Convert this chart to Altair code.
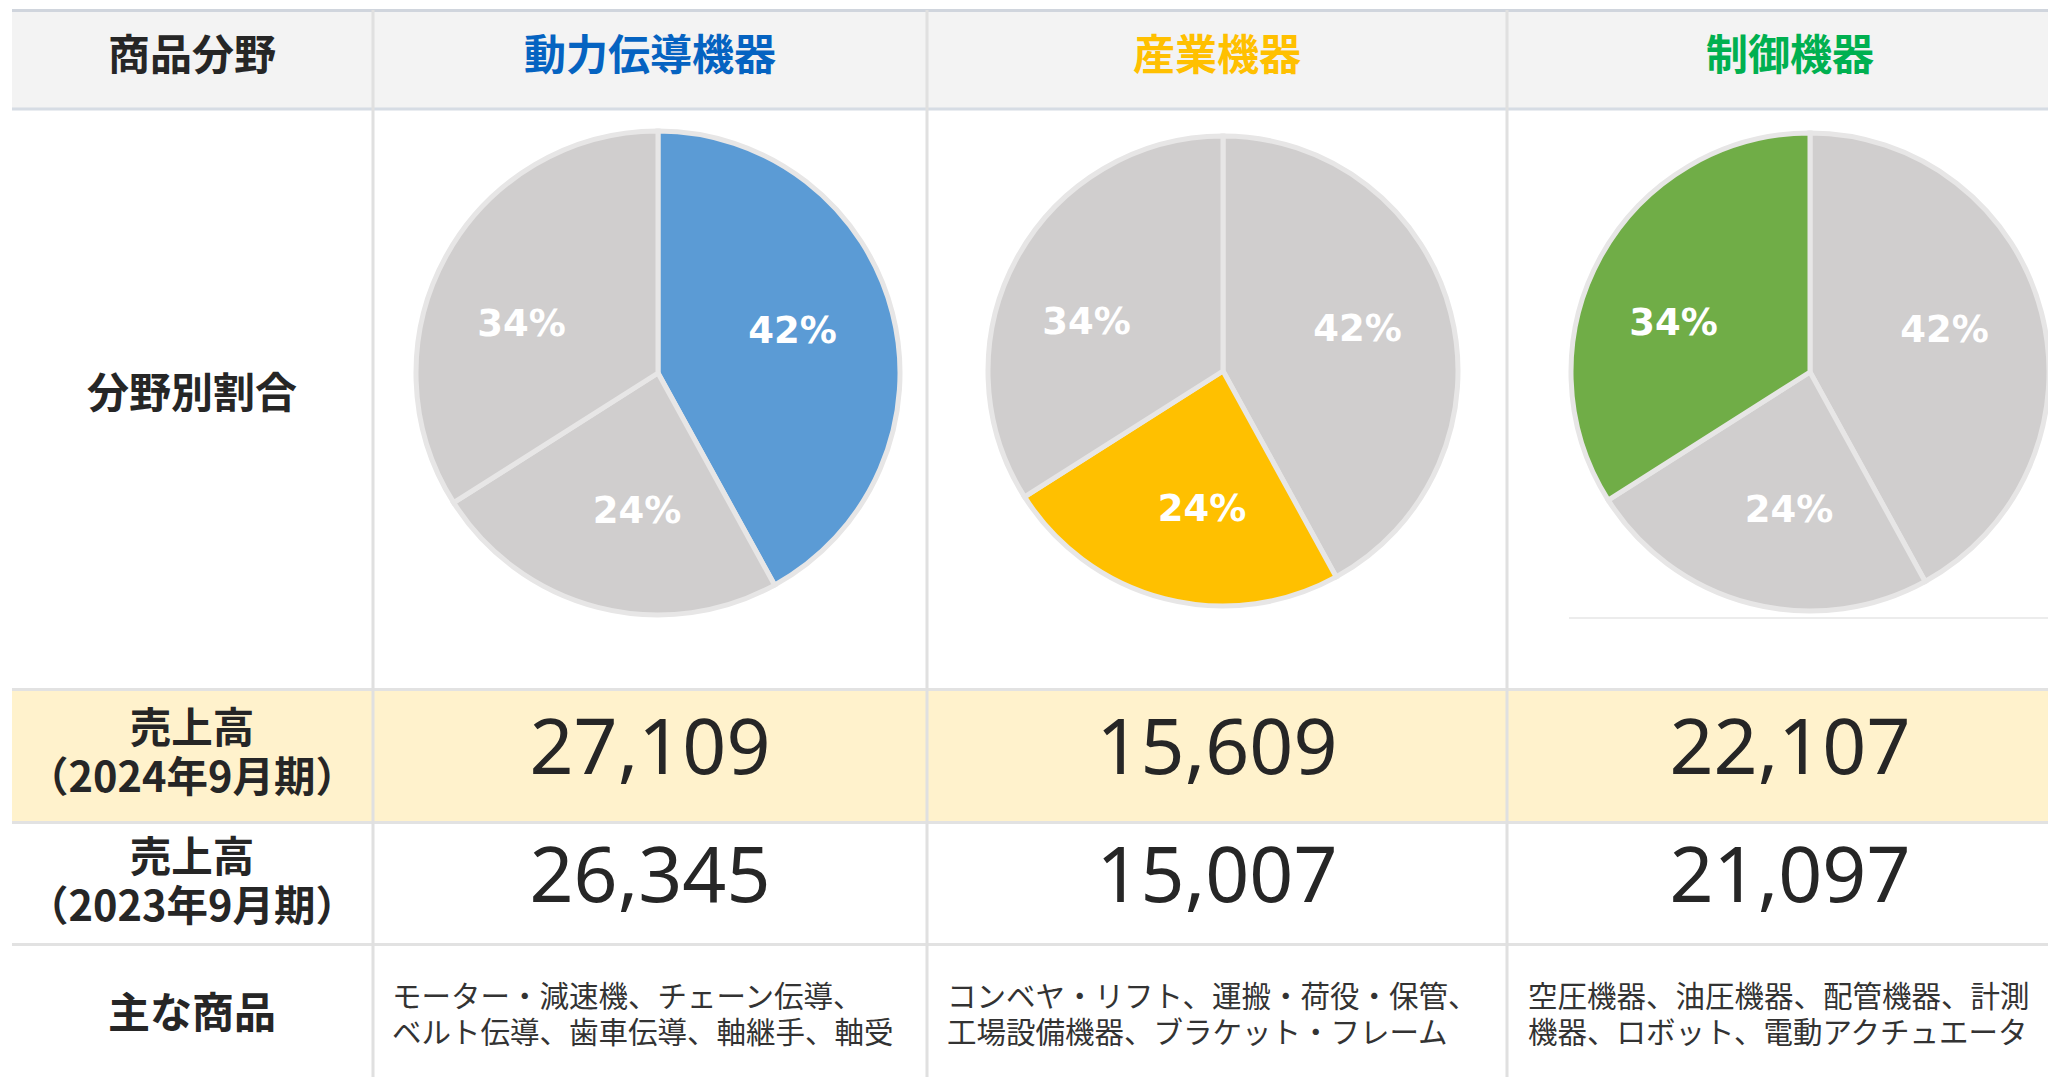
import altair as alt
import pandas as pd

# ---------------- data ----------------
header_label = "商品分野"
categories = ["動力伝導機器", "産業機器", "制御機器"]
shares = [42, 24, 34]
sales_2024 = [27109, 15609, 22107]
sales_2023 = [26345, 15007, 21097]
row_label_share = "分野別割合"
row_label_2024 = ["売上高", "（2024年9月期）"]
row_label_2023 = ["売上高", "（2023年9月期）"]
row_label_products = "主な商品"
products = [
    ["モーター・減速機、チェーン伝導、", "ベルト伝導、歯車伝導、軸継手、軸受"],
    ["コンベヤ・リフト、運搬・荷役・保管、", "工場設備機器、ブラケット・フレーム"],
    ["空圧機器、油圧機器、配管機器、計測", "機器、ロボット、電動アクチュエータ"],
]

# ---------------- style ----------------
head_colors = ["#0563C1", "#FFC000", "#00B050"]
pie_colors = ["#5B9BD5", "#FFC000", "#70AD47"]
gray = "#D0CECE"
edge = "#E7E6E6"
dark = "#262626"
jp = "Noto Sans CJK JP"

OFF = 8
W, H = 2040, 1069


def P(v):
    return v - OFF


one = pd.DataFrame({"k": [0]})

col_edges = [12, 373, 927, 1507, 2060]
col_centers = [192, 650, 1217, 1790]
pie_centers = [(658, 373), (1223, 371), (1810, 372)]
pie_radius = [242, 235, 239]
# small label nudges per slice (Excel-like label placement)
label_nudge = [(-2, -6), (14, 2), (-13, 20)]

layers = []


def rect(x0, x1, y0, y1, color):
    return alt.Chart(one).mark_rect(color=color).encode(
        x=alt.value(P(x0)), x2=alt.value(P(x1)), y=alt.value(P(y0)), y2=alt.value(P(y1))
    )


def hline(y, x0, x1, color, w):
    return alt.Chart(one).mark_rule(color=color, strokeWidth=w).encode(
        x=alt.value(P(x0)), x2=alt.value(P(x1)), y=alt.value(P(y))
    )


def vline(x, y0, y1, color, w):
    return alt.Chart(one).mark_rule(color=color, strokeWidth=w).encode(
        x=alt.value(P(x)), y=alt.value(P(y0)), y2=alt.value(P(y1))
    )


def label(text, x, y, size, color=dark, weight="bold", font=jp, align="center",
          baseline="middle", line_height=None):
    if isinstance(text, list):
        text = "\n".join(text)
    kw = dict(font=font, fontSize=size, fontWeight=weight, color=color, align=align,
              baseline=baseline)
    if line_height is not None:
        kw.update(lineBreak="\n", lineHeight=line_height)
    return alt.Chart(pd.DataFrame({"t": [text]})).mark_text(**kw).encode(
        text="t:N", x=alt.value(P(x)), y=alt.value(P(y))
    )


# backgrounds
layers.append(rect(12, 2060, 12, 108, "#F3F3F3"))
layers.append(rect(12, 2060, 691, 821, "#FFF2CC"))

# horizontal borders
layers.append(hline(10.5, 12, 2060, "#D0D5DD", 3))
layers.append(hline(109, 12, 2060, "#D6DCE4", 3))
layers.append(hline(689.5, 12, 2060, "#E2E2E2", 3))
layers.append(hline(822.5, 12, 2060, "#E2E2E2", 3))
layers.append(hline(944.5, 12, 2060, "#E2E2E2", 3))
layers.append(hline(618, 1569, 2060, "#D9D9D9", 1))

# vertical borders
for xe in col_edges[1:4]:
    layers.append(vline(xe, 10, 1090, "#E0E0E0", 3))

# pies
for i, cat in enumerate(categories):
    df = pd.DataFrame({
        "seg": categories,
        "share": shares,
        "ord": [0, 1, 2],
        "fill": [pie_colors[i] if c == cat else gray for c in categories],
        "lab": [f"{s}%" for s in shares],
    })
    cx, cy = pie_centers[i]
    base = alt.Chart(df).encode(
        theta=alt.Theta("share:Q", stack=True),
        order=alt.Order("ord:Q"),
        x=alt.value(P(cx)),
        y=alt.value(P(cy)),
    )
    layers.append(
        base.mark_arc(outerRadius=pie_radius[i], stroke=edge, strokeWidth=5).encode(
            color=alt.Color("fill:N", scale=None)
        )
    )
    for k in range(3):
        dx, dy = label_nudge[k]
        layers.append(
            base.mark_text(radius=141, font="DejaVu Sans", fontSize=37, fontWeight="bold",
                           color="white", align="center", baseline="middle", dx=dx, dy=dy)
            .encode(text="lab:N", opacity=alt.condition(f"datum.ord == {k}", alt.value(1), alt.value(0)))
        )

# header row
layers.append(label(header_label, col_centers[0], 57, 42))
for i, cat in enumerate(categories):
    layers.append(label(cat, col_centers[i + 1], 57, 42, color=head_colors[i]))

# row labels (first-line centre given; following line placed lineHeight below)
layers.append(label(row_label_share, col_centers[0], 395, 42))
layers.append(label(row_label_2024, col_centers[0], 731, 41.5, line_height=49))
layers.append(label(row_label_2023, col_centers[0], 860, 41.5, line_height=49))
layers.append(label(row_label_products, col_centers[0], 1015, 42))

# sales numbers
for i in range(3):
    layers.append(label(f"{sales_2024[i]:,}", col_centers[i + 1], 774, 77, weight="normal",
                        font="Noto Sans", baseline="alphabetic"))
    layers.append(label(f"{sales_2023[i]:,}", col_centers[i + 1], 902, 77, weight="normal",
                        font="Noto Sans", baseline="alphabetic"))

# products
prod_x = [392, 947, 1528]
for i in range(3):
    layers.append(label(products[i], prod_x[i], 998, 29.5, color="#333333", weight="normal",
                        align="left", line_height=36))

chart = alt.layer(*layers).properties(
    width=W, height=H, padding=0, autosize=alt.AutoSizeParams(type="none")
).configure_view(strokeWidth=0)

chart.save("out.html", embed_options={"renderer": "svg", "actions": False})
